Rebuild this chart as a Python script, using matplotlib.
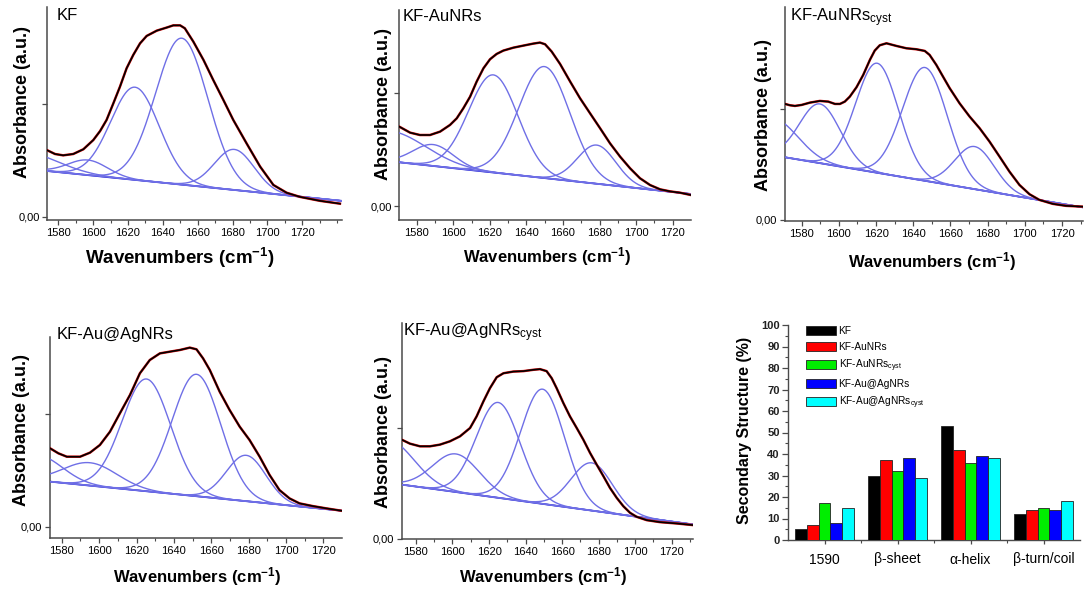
import numpy as np
import matplotlib
matplotlib.use("Agg")
import matplotlib.pyplot as plt
from matplotlib.ticker import MultipleLocator, FixedLocator

plt.rcParams['font.family'] = ['Liberation Sans', 'DejaVu Sans']
plt.rcParams['mathtext.fontset'] = 'custom'
plt.rcParams['mathtext.rm'] = 'Liberation Sans'
plt.rcParams['mathtext.it'] = 'Liberation Sans:italic'
plt.rcParams['mathtext.bf'] = 'Liberation Sans:bold'

kf_wn = [1573.3, 1578.1, 1582.8, 1588.6, 1594.4, 1600.1, 1604.0, 1607.7, 1611.6, 1615.4,
         1619.2, 1623.0, 1626.9, 1630.7, 1636.5, 1642.1, 1646.0, 1649.9, 1652.6, 1657.5,
         1663.3, 1668.9, 1674.7, 1680.4, 1688.0, 1695.8, 1703.4, 1711.0, 1718.7, 1730.2, 1741.6]
kf_abs = [0.592, 0.556, 0.544, 0.556, 0.598, 0.680, 0.760, 0.858, 1.006, 1.154,
          1.317, 1.435, 1.538, 1.604, 1.651, 1.678, 1.698, 1.698, 1.672, 1.553,
          1.391, 1.213, 1.036, 0.858, 0.651, 0.444, 0.281, 0.212, 0.175, 0.140, 0.115]

aunr_wn = [1570.5, 1576.4, 1581.8, 1587.3, 1592.8, 1598.2, 1601.9, 1605.5, 1609.2, 1612.8,
           1616.5, 1620.1, 1623.7, 1627.4, 1632.9, 1638.3, 1643.8, 1647.4, 1650.2, 1653.8,
           1658.4, 1663.9, 1669.3, 1674.8, 1680.3, 1685.7, 1691.2, 1696.7, 1702.1, 1707.6,
           1713.1, 1718.5, 1724.0, 1729.8]
aunr_abs = [0.704, 0.651, 0.630, 0.630, 0.660, 0.719, 0.778, 0.867, 0.970, 1.104,
            1.222, 1.302, 1.349, 1.379, 1.405, 1.423, 1.441, 1.450, 1.435, 1.370,
            1.260, 1.104, 0.956, 0.822, 0.689, 0.556, 0.438, 0.334, 0.246, 0.186,
            0.148, 0.130, 0.118, 0.098]

aunrc_wn = [1571.1, 1573.7, 1576.4, 1580.0, 1584.5, 1589.8, 1594.3, 1597.9, 1600.6, 1603.2,
            1605.9, 1609.5, 1613.1, 1616.7, 1619.3, 1622.0, 1625.6, 1631.0, 1636.3, 1641.7,
            1646.2, 1648.8, 1652.4, 1656.0, 1659.6, 1664.9, 1670.3, 1675.7, 1681.0, 1686.4,
            1691.7, 1697.1, 1702.5, 1707.8, 1715.0, 1722.1, 1731.0]
aunrc_abs = [1.048, 1.036, 1.030, 1.039, 1.060, 1.075, 1.069, 1.048, 1.048, 1.069,
             1.114, 1.199, 1.310, 1.446, 1.530, 1.578, 1.596, 1.572, 1.551, 1.542,
             1.527, 1.491, 1.401, 1.295, 1.190, 1.054, 0.934, 0.828, 0.708, 0.572,
             0.437, 0.316, 0.232, 0.181, 0.145, 0.127, 0.120]

auag_wn = [1573.8, 1578.2, 1582.7, 1589.8, 1595.1, 1600.4, 1605.8, 1611.1, 1616.5, 1621.8,
           1627.1, 1632.5, 1637.8, 1643.2, 1648.5, 1652.1, 1655.6, 1659.2, 1664.5, 1669.8,
           1675.2, 1680.5, 1685.9, 1691.2, 1696.5, 1701.9, 1707.2, 1714.3, 1721.4, 1729.5]
auag_abs = [0.695, 0.651, 0.621, 0.621, 0.657, 0.725, 0.843, 1.006, 1.169, 1.361,
            1.479, 1.538, 1.553, 1.568, 1.589, 1.574, 1.494, 1.391, 1.198, 1.036,
            0.888, 0.769, 0.621, 0.459, 0.325, 0.251, 0.207, 0.183, 0.163, 0.142]

auagc_wn = [1572.2, 1576.7, 1582.2, 1587.7, 1593.1, 1598.6, 1604.1, 1609.6, 1613.2, 1616.9,
            1620.5, 1624.2, 1627.9, 1633.3, 1638.8, 1644.2, 1647.9, 1651.5, 1654.3, 1657.0,
            1660.7, 1664.3, 1668.0, 1671.6, 1675.3, 1678.9, 1682.6, 1686.2, 1689.9, 1693.5,
            1697.2, 1700.8, 1706.3, 1713.6, 1722.7, 1731.8]
auagc_abs = [0.895, 0.859, 0.835, 0.835, 0.850, 0.880, 0.925, 1.000, 1.105, 1.240,
             1.360, 1.459, 1.495, 1.510, 1.514, 1.526, 1.532, 1.514, 1.450, 1.360,
             1.225, 1.105, 1.000, 0.895, 0.775, 0.670, 0.565, 0.459, 0.369, 0.294,
             0.234, 0.198, 0.168, 0.150, 0.138, 0.123]

# ---------------- data: fitted band parameters ----------------
kf_base = [0.405, 0.140]
kf_peak_wn = [1560.1, 1597.0, 1624.0, 1650.8, 1681.0]
kf_peak_h = [0.153, 0.134, 0.823, 1.300, 0.360]
kf_peak_sig = [19.3, 11.3, 13.9, 15.0, 11.4]

aunr_base = [0.388, 0.107]
aunr_peak_wn = [1565.0, 1589.0, 1621.9, 1649.8, 1678.4]
aunr_peak_h = [0.270, 0.190, 0.866, 0.989, 0.343]
aunr_peak_sig = [20.0, 11.0, 13.5, 14.0, 10.5]

aunrc_base = [0.566, 0.114]
aunrc_peak_wn = [1565.0, 1589.8, 1620.6, 1646.3, 1673.0]
aunrc_peak_h = [0.335, 0.535, 0.990, 1.024, 0.385]
aunrc_peak_sig = [13.0, 11.0, 11.5, 12.0, 10.6]

auag_base = [0.400, 0.142]
auag_peak_wn = [1567.3, 1595.1, 1625.3, 1652.1, 1678.7]
auag_peak_h = [0.225, 0.203, 0.996, 1.082, 0.407]
auag_peak_sig = [13.0, 14.5, 13.0, 13.0, 10.6]

auagc_base = [0.489, 0.129]
auagc_peak_wn = [1565.0, 1601.9, 1625.0, 1649.3, 1676.2]
auagc_peak_h = [0.390, 0.344, 0.861, 1.036, 0.431]
auagc_peak_sig = [14.0, 12.8, 12.0, 12.0, 11.3]

# ---------------- data: secondary structure bars ----------------
structures = ['1590', 'β-sheet', 'α-helix', 'β-turn/coil']
samples = ['KF', 'KF-AuNRs', r'KF-AuNRs$_{\rm cyst}$', 'KF-Au@AgNRs', r'KF-Au@AgNRs$_{\rm cyst}$']
pct_kf = [5, 30, 53, 12]
pct_aunr = [7, 37, 42, 14]
pct_aunrc = [17, 32, 36, 15]
pct_auag = [8, 38, 39, 14]
pct_auagc = [15, 29, 38, 18]

wn_ticks = [1580, 1600, 1620, 1640, 1660, 1680, 1700, 1720]

# ---------------- layout helpers ----------------
W, H = 1084, 589
fig = plt.figure(figsize=(W / 100, H / 100), dpi=100)


def add_ax(x0, x1, y0, y1):
    return fig.add_axes([x0 / W, 1 - y1 / H, (x1 - x0) / W, (y1 - y0) / H])


def ftext(x, y, s, **kw):
    fig.text(x / W, 1 - y / H, s, **kw)


SPINE = '#4a4a4a'
COMP = '#6f6fe6'
BASE = '#1515d0'


def spectrum(rect, xlim, ylim, wn, ab, base, pk_wn, pk_h, pk_sig, label, lab_xy,
             ylab_xy, xlab_xy, xlab_size):
    ax = add_ax(*rect)
    grid = np.linspace(xlim[0], xlim[1], 600)
    bl = np.interp(grid, [xlim[0], xlim[1]], base)
    ax.plot([xlim[0], xlim[1]], base, color=BASE, lw=1.3, zorder=2)
    for c, h, s in zip(pk_wn, pk_h, pk_sig):
        ax.plot(grid, bl + h * np.exp(-(grid - c) ** 2 / (2 * s ** 2)), color=COMP,
                lw=1.0, zorder=3)
    ax.plot(wn, ab, color='#e01010', lw=1.8, zorder=4)
    ax.plot(wn, ab, color='black', lw=1.2, zorder=5)
    ax.set_xlim(*xlim)
    ax.set_ylim(*ylim)
    for sp in ['top', 'right']:
        ax.spines[sp].set_visible(False)
    for sp in ['left', 'bottom']:
        ax.spines[sp].set_color(SPINE)
        ax.spines[sp].set_linewidth(1.1)
    ax.set_xticks(wn_ticks)
    ax.set_xticklabels([str(t) for t in wn_ticks], fontsize=8)
    ax.xaxis.set_minor_locator(MultipleLocator(10))
    ax.set_yticks([0, 1])
    ax.set_yticklabels(['0,00', ''], fontsize=8)
    ax.tick_params(which='major', direction='out', length=3.5, width=0.9, color=SPINE, pad=2)
    ax.tick_params(which='minor', direction='out', length=2, width=0.8, color=SPINE)
    ax.patch.set_alpha(0)
    ftext(lab_xy[0], lab_xy[1], label, fontsize=12, ha='left', va='center')
    ftext(ylab_xy[0], ylab_xy[1], 'Absorbance (a.u.)', fontsize=13, fontweight='bold',
          rotation=90, ha='center', va='center')
    ftext(xlab_xy[0], xlab_xy[1], r'Wavenumbers (cm$^{\mathbf{-1}}$)', fontsize=xlab_size,
          fontweight='bold', ha='center', va='center')
    return ax


spectrum((47.3, 341.7, 7, 220), (1573.7, 1742.6), (-0.03, 1.861), kf_wn, kf_abs, kf_base,
         kf_peak_wn, kf_peak_h, kf_peak_sig, 'KF', (57, 15), (23, 102), (180, 258), 13.5)
spectrum((399.3, 690.7, 10, 220), (1570.5, 1729.8), (-0.124, 1.739), aunr_wn, aunr_abs,
         aunr_base, aunr_peak_wn, aunr_peak_h, aunr_peak_sig, 'KF-AuNRs', (402.7, 16.7),
         (383, 104), (547, 257), 12)
spectrum((784.9, 1082.5, 7, 221), (1571, 1731), (-0.01, 1.924), aunrc_wn, aunrc_abs,
         aunrc_base, aunrc_peak_wn, aunrc_peak_h, aunrc_peak_sig, r'KF-AuNRs$_{\rm cyst}$',
         (790, 18), (763, 115), (932, 262), 12)
spectrum((50, 341.7, 336.7, 538.3), (1573.7, 1729.8), (-0.103, 1.686), auag_wn, auag_abs,
         auag_base, auag_peak_wn, auag_peak_h, auag_peak_sig, 'KF-Au@AgNRs', (56.7, 335),
         (22, 430), (197, 577), 12)
spectrum((401.7, 693.3, 323.3, 539.3), (1572.2, 1731.8), (-0.005, 1.946), auagc_wn, auagc_abs,
         auagc_base, auagc_peak_wn, auagc_peak_h, auagc_peak_sig, r'KF-Au@AgNRs$_{\rm cyst}$',
         (403, 333), (383, 432), (543, 577), 12)

# ---------------- bar chart ----------------
bx = add_ax(788, 1080, 325, 540)
series = [pct_kf, pct_aunr, pct_aunrc, pct_auag, pct_auagc]
colors = ['#000000', '#ff0000', '#00ee00', '#0000ff', '#00ffff']
x = np.arange(len(structures))
bw = 0.16
for i, (vals, col, name) in enumerate(zip(series, colors, samples)):
    bx.bar(x + (i - 2) * bw, vals, width=bw, color=col, edgecolor='#222222', linewidth=0.6,
           label=name, zorder=3)
bx.set_xlim(-0.5, 3.5)
bx.set_ylim(0, 100)
for sp in ['top', 'right']:
    bx.spines[sp].set_visible(False)
for sp in ['left', 'bottom']:
    bx.spines[sp].set_color(SPINE)
    bx.spines[sp].set_linewidth(1.0)
bx.set_xticks(x)
bx.set_xticklabels(structures, fontsize=10)
bx.xaxis.set_minor_locator(FixedLocator([0.5, 1.5, 2.5]))
bx.set_yticks(np.arange(0, 101, 10))
bx.set_yticklabels([str(v) for v in range(0, 101, 10)], fontsize=8, fontweight='bold',
                   color='#222222')
bx.yaxis.set_minor_locator(MultipleLocator(5))
bx.tick_params(axis='y', which='major', direction='out', length=4, width=0.9, color=SPINE, pad=2)
bx.tick_params(axis='y', which='minor', direction='out', length=2, width=0.8, color=SPINE)
bx.tick_params(axis='x', which='major', direction='out', length=3, width=0.9, color=SPINE, pad=6)
bx.tick_params(axis='x', which='minor', direction='out', length=2, width=0.8, color=SPINE)
bx.patch.set_alpha(0)
leg = bx.legend(loc='upper left', bbox_to_anchor=(0.062, 0.995), frameon=False, fontsize=7.3,
                handlelength=2.9, handleheight=1.0, labelspacing=0.55, handletextpad=0.3,
                borderaxespad=0, borderpad=0)
ftext(745, 430, 'Secondary Structure (%)', fontsize=11.5, fontweight='bold', rotation=90,
      ha='center', va='center')

fig.savefig('out.png', dpi=100)
